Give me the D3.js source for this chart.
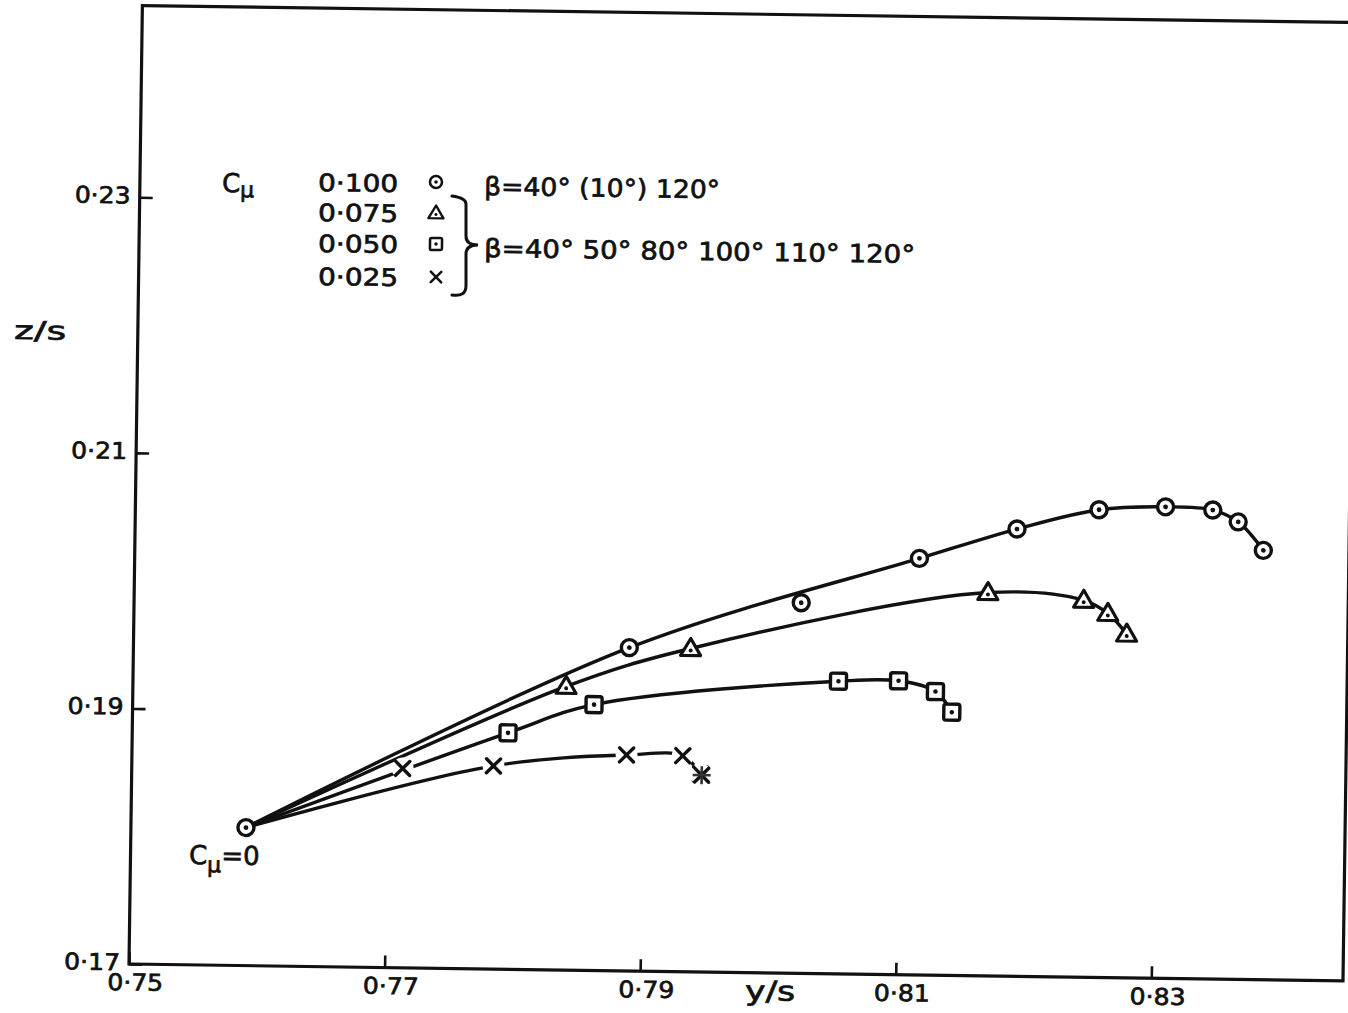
<!DOCTYPE html>
<html>
<head>
<meta charset="utf-8">
<script src="https://cdn.jsdelivr.net/npm/d3@7"></script>
<style>
  body { margin: 0; background: #fff; }
  text { font-family: "DejaVu Sans", sans-serif; fill: #111; stroke: #111; stroke-width: 0.7px; }
</style>
</head>
<body>
<div id="chart"></div>
<script>
// Cmu = 0 start point, shared by all four curves
const originYS = 0.7590
const originZS = 0.1808

// Cmu = 0.100, beta = 40 (10) 120 deg
const circleYS = [0.7888, 0.8022, 0.8114, 0.8190, 0.8254, 0.8306, 0.8343, 0.8363, 0.8383]
const circleZS = [0.1953, 0.1990, 0.2026, 0.2050, 0.2066, 0.2069, 0.2067, 0.2058, 0.2036]
const circleOnCurve = [1, 0, 1, 1, 1, 1, 1, 1, 1]

// Cmu = 0.075, beta = 40 50 80 100 110 120
const triYS = [0.7839, 0.7936, 0.8168, 0.8243, 0.8262, 0.8277]
const triZS = [0.1922, 0.1953, 0.2000, 0.1995, 0.1985, 0.1969]
const triOnCurve = [1, 1, 1, 1, 1, 1]

// Cmu = 0.050
const sqYS = [0.7794, 0.7861, 0.8052, 0.8099, 0.8128, 0.8141]
const sqZS = [0.1885, 0.1908, 0.1929, 0.1930, 0.1922, 0.1906]
const sqOnCurve = [1, 1, 1, 1, 1, 1]

// Cmu = 0.025 (last two points overlap)
const crossYS = [0.7712, 0.7783, 0.7887, 0.7931, 0.7945, 0.7946]
const crossZS = [0.1856, 0.1859, 0.1869, 0.1869, 0.1855, 0.1854]
const crossOnCurve = [0, 1, 1, 1, 1, 0]

const xTicks = [0.75, 0.77, 0.79, 0.81, 0.83]
const yTicks = [0.17, 0.19, 0.21, 0.23]
const legendCmu = ["0·100", "0·075", "0·050", "0·025"]
const legendBeta1 = "β=40° (10°) 120°"
const legendBeta2 = "β=40°  50°  80°   100°  110°  120°"

const width = 1348
const height = 1013
const x0 = 129, y0 = 964, pxPerUnit = 12780
const tilt = 0.8   // the scanned sheet sits slightly rotated

const xScale = d3.scaleLinear().domain([0.75, 0.845]).range([x0, x0 + 0.095 * pxPerUnit])
const yScale = d3.scaleLinear().domain([0.17, 0.245]).range([y0, y0 - 0.075 * pxPerUnit])

const svg = d3.select("#chart").append("svg")
    .attr("width", width)
    .attr("height", height)

const g = svg.append("g").attr("transform", `rotate(${tilt},${x0},${y0})`)

// screen position -> group position (undo the tilt)
function unrot(X, Y){
    const a = tilt * Math.PI / 180
    const dx = X - x0, dy = Y - y0
    return [x0 + dx * Math.cos(a) + dy * Math.sin(a), y0 - dx * Math.sin(a) + dy * Math.cos(a)]
}

const fmt = d => d3.format(".2f")(d).replace(".", "·")

// frame
g.append("rect")
    .attr("x", xScale(0.75))
    .attr("y", yScale(0.245))
    .attr("width", xScale(0.845) - xScale(0.75))
    .attr("height", yScale(0.17) - yScale(0.245))
    .attr("fill", "none")
    .attr("stroke", "#111")
    .attr("stroke-width", 3.2)

const xAxis = d3.axisBottom(xScale).tickValues(xTicks).tickFormat(fmt)
    .tickSizeInner(-12).tickSizeOuter(0).tickPadding(10)
const yAxis = d3.axisLeft(yScale).tickValues(yTicks).tickFormat(fmt)
    .tickSizeInner(-13).tickSizeOuter(0).tickPadding(9)

const gx = g.append("g").attr("transform", `translate(0,${y0})`).call(xAxis)
const gy = g.append("g").attr("transform", `translate(${x0},0)`).call(yAxis)

for (const ax of [gx, gy]) {
    ax.select(".domain").remove()
    ax.selectAll(".tick line").attr("stroke", "#111").attr("stroke-width", 2.6)
    ax.selectAll(".tick text")
        .attr("fill", "#111")
        .style("font-family", "DejaVu Sans, sans-serif")
        .style("font-size", "23px")
        .attr("textLength", 56)
        .attr("lengthAdjust", "spacingAndGlyphs")
}
gx.selectAll(".tick text").attr("dx", 6)
gy.selectAll(".tick text").attr("dy", "0.25em")

function label(X, Y, str, size, opts = {}){
    const p = unrot(X, Y)
    const t = g.append("text")
        .attr("x", p[0]).attr("y", p[1])
        .style("font-size", size + "px")
        .text(str)
    if (opts.len) t.attr("textLength", opts.len).attr("lengthAdjust", "spacingAndGlyphs")
    return t
}

// axis titles
label(14, 339, "z/s", 25, {len: 52})
label(745, 1000, "y/s", 27, {len: 50})

// curves
const line = d3.line()
    .x(d => xScale(d[0]))
    .y(d => yScale(d[1]))
    .curve(d3.curveCatmullRom.alpha(0.5))

const series = [
    {ys: circleYS, zs: circleZS, on: circleOnCurve, mark: "circle"},
    {ys: triYS, zs: triZS, on: triOnCurve, mark: "triangle"},
    {ys: sqYS, zs: sqZS, on: sqOnCurve, mark: "square"},
    {ys: crossYS, zs: crossZS, on: crossOnCurve, mark: "cross"}
]

series.forEach(s => {
    const pts = [[originYS, originZS]].concat(s.ys.map((v, i) => [v, s.zs[i]]).filter((d, i) => s.on[i]))
    g.append("path")
        .attr("d", line(pts))
        .attr("fill", "none")
        .attr("stroke", "#111")
        .attr("stroke-width", 3.4)
        .attr("stroke-linecap", "round")
})

function drawMarker(sel, type, cx, cy){
    const m = sel.append("g").attr("transform", `translate(${cx},${cy})`)
    if (type == "circle") {
        m.append("circle").attr("r", 8).attr("fill", "#fff").attr("stroke", "#111").attr("stroke-width", 3.4)
        m.append("circle").attr("r", 2.4).attr("fill", "#111")
    } else if (type == "triangle") {
        m.append("path").attr("d", "M0,-10L10,7L-10,7Z")
            .attr("fill", "#fff").attr("stroke", "#111").attr("stroke-width", 3.2).attr("stroke-linejoin", "round")
        m.append("circle").attr("cy", 2).attr("r", 2).attr("fill", "#111")
    } else if (type == "square") {
        m.append("rect").attr("x", -8).attr("y", -8).attr("width", 16).attr("height", 16).attr("rx", 2)
            .attr("fill", "#fff").attr("stroke", "#111").attr("stroke-width", 3.4)
        m.append("circle").attr("r", 2.3).attr("fill", "#111")
    } else if (type == "cross" || type == "asterisk") {
        m.append("circle").attr("r", 11).attr("fill", "#fff")
        m.append("path").attr("d", "M-7,-7L7,7M7,-7L-7,7")
            .attr("stroke", "#111").attr("stroke-width", 3.4).attr("stroke-linecap", "round")
        if (type == "asterisk")
            m.append("path").attr("d", "M0,-9L0,9M-9,0L9,0")
                .attr("stroke", "#333").attr("stroke-width", 2.6)
    }
}

// origin point
drawMarker(g, "circle", xScale(originYS), yScale(originZS))

series.forEach(s => {
    s.ys.forEach((v, i) => {
        let type = s.mark
        if (s.mark == "cross" && i > 0 && Math.abs(v - s.ys[i - 1]) < 0.0003) type = "asterisk"
        drawMarker(g, type, xScale(v), yScale(s.zs[i]))
    })
})

// legend
const cmuPos = unrot(222, 192)
const cmu = g.append("text").attr("x", cmuPos[0]).attr("y", cmuPos[1]).style("font-size", "26px")
cmu.append("tspan").text("C")
cmu.append("tspan").attr("dy", 5).style("font-size", "22px").text("μ")

const rowY = [191, 221, 252, 285]
const markY = [182, 213, 244, 277]
const markTypes = ["circle", "triangle", "square", "cross"]
legendCmu.forEach((str, i) => {
    label(318, rowY[i], str, 24, {len: 80})
    const p = unrot(436, markY[i])
    const m = g.append("g").attr("transform", `translate(${p[0]},${p[1]}) scale(0.75)`)
    drawMarker(m, markTypes[i], 0, 0)
})

label(484, 195, legendBeta1, 25, {len: 236})
label(484, 257, legendBeta2, 25, {len: 431})

// brace joining the lower three rows
const b = [[452, 196], [466, 204], [466, 236], [478, 245], [466, 254], [466, 286], [452, 295]].map(p => unrot(p[0], p[1]))
g.append("path")
    .attr("d", `M${b[0]}Q${b[1][0]},${b[1][1] - 6} ${b[1]}L${b[2]}Q${b[2][0]},${b[3][1]} ${b[3]}Q${b[4][0]},${b[3][1]} ${b[4]}L${b[5]}Q${b[5][0]},${b[6][1] + 2} ${b[6]}`)
    .attr("fill", "none")
    .attr("stroke", "#111")
    .attr("stroke-width", 3)
    .attr("stroke-linecap", "round")

// Cmu = 0 annotation
const c0 = unrot(189, 864)
const c0t = g.append("text").attr("x", c0[0]).attr("y", c0[1]).style("font-size", "26px")
c0t.append("tspan").text("C")
c0t.append("tspan").attr("dy", 8).style("font-size", "22px").text("μ")
c0t.append("tspan").attr("dy", -8).text("=0")
</script>
</body>
</html>
